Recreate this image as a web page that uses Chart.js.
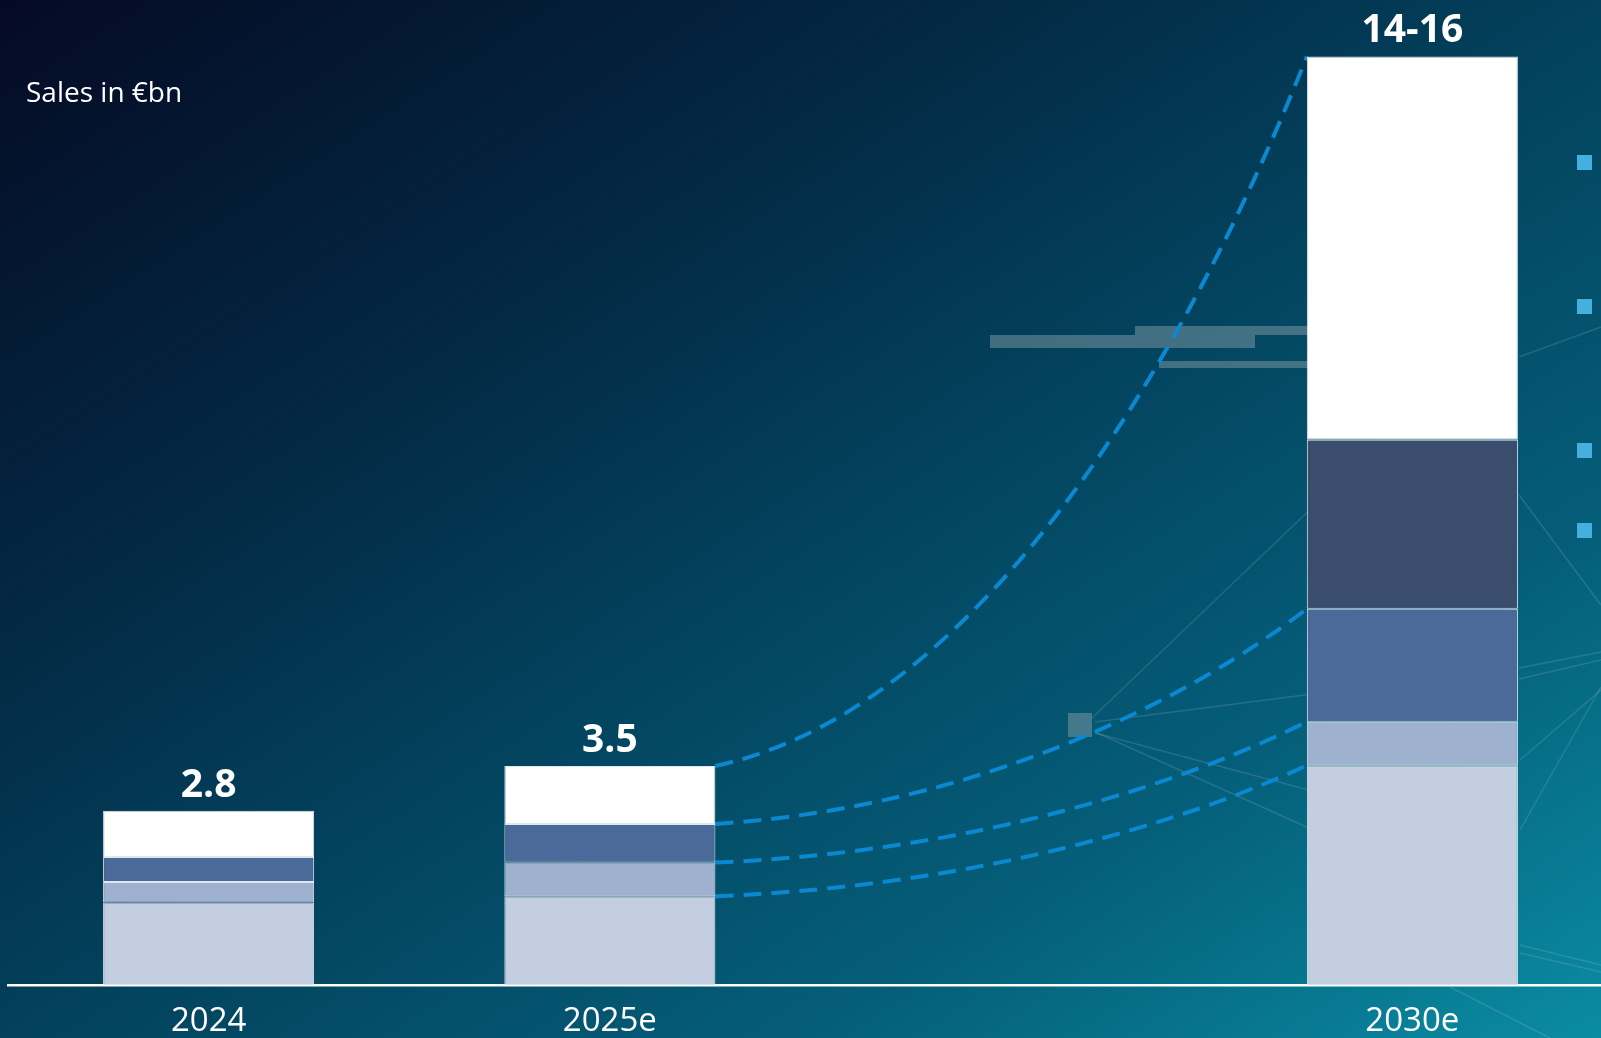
<!DOCTYPE html>
<html lang="en">
<head>
    <meta charset="UTF-8">
    <title>Sales in €bn</title>
    <script src="https://cdn.jsdelivr.net/npm/chart.js"></script>
    <style>
        html, body { margin: 0; padding: 0; width: 1601px; height: 1038px; overflow: hidden; }
        body {
            background: linear-gradient(to bottom right, #050a24 0%, #032a45 32%, #03435e 52%, #055f7a 76%, #0a8ca3 100%);
            font-family: 'Open Sans', sans-serif;
        }
        #wrap { position: relative; width: 1615px; height: 1058px; }
        #myChart { display: block; }
        #unit { position: absolute; left: 26px; top: 77px; color: #fff; font-size: 28px; line-height: 1; }
    </style>
</head>
<body>
    <div id="wrap">
        <canvas id="myChart" width="1615" height="1058"></canvas>
        <div id="unit">Sales in €bn</div>
    </div>

    <script>
        // years on the x axis (third slot left empty so 2030e sits further out)
        const categories = ['2024', '2025e', '', '2030e'];

        // stacked segments, bottom to top (€bn)
        const segment1 = [1.33, 1.43, null, 3.53];
        const segment2 = [0.33, 0.54, null, 0.70];
        const segment3 = [0.40, 0.62, null, 1.81];
        const segment4 = [0, 0, null, 2.71];
        const segment5 = [0.74, 0.93, null, 6.15];

        const totalLabels = ['2.8', '3.5', '', '14-16'];

        // dashed connectors run from 2025e to 2030e at the top of these segments
        const linkedSegments = [0, 1, 2, 4];

        // background decoration (slide artwork)
        const bgLines = [
            [1091, 719, 1320, 500], [1095, 722, 1320, 693], [1095, 733, 1320, 793],
            [1095, 732, 1320, 833], [1519, 357, 1601, 327], [1519, 495, 1601, 605],
            [1519, 668, 1601, 652], [1519, 679, 1601, 660], [1520, 830, 1601, 687],
            [1520, 760, 1601, 690], [1520, 945, 1601, 965], [1520, 953, 1601, 972],
            [1450, 987, 1550, 1038]
        ];
        const bgBlocks = [
            [990, 335, 265, 13], [1135, 326, 175, 9], [1159, 361, 150, 7], [1068, 713, 24, 24]
        ];
        const bullets = [155, 299, 443, 523];

        const fillColors = ['#c3cee0', '#9eb1ce', '#4b6a99', '#3a4d6d', '#ffffff'];
        const segmentData = [segment1, segment2, segment3, segment4, segment5];

        const backdrop = {
            id: 'backdrop',
            beforeDatasetsDraw(chart) {
                const ctx = chart.ctx;
                ctx.save();
                ctx.strokeStyle = 'rgba(200,215,225,0.16)';
                ctx.lineWidth = 1.5;
                bgLines.forEach(l => {
                    ctx.beginPath();
                    ctx.moveTo(l[0], l[1]);
                    ctx.lineTo(l[2], l[3]);
                    ctx.stroke();
                });
                ctx.fillStyle = 'rgba(130,155,165,0.5)';
                bgBlocks.forEach(b => ctx.fillRect(b[0], b[1], b[2], b[3]));
                ctx.fillStyle = '#45b0e0';
                bullets.forEach(y => ctx.fillRect(1577, y, 15, 15));

                // dashed growth curves between 2025e and 2030e
                ctx.strokeStyle = '#0b88d2';
                ctx.lineWidth = 4;
                ctx.setLineDash([18, 10]);
                linkedSegments.forEach(d => {
                    const meta = chart.getDatasetMeta(d);
                    const a = meta.data[1], b = meta.data[3];
                    const x0 = a.x + a.width / 2, y0 = a.y;
                    const x1 = b.x - b.width / 2, y1 = b.y;
                    const dx = x1 - x0, dy = y1 - y0;
                    ctx.beginPath();
                    ctx.moveTo(x0, y0);
                    ctx.bezierCurveTo(x0 + 0.45 * dx, y0 + 0.08 * dy, x0 + 0.8 * dx, y0 + 0.58 * dy, x1, y1);
                    ctx.stroke();
                });
                ctx.restore();
            }
        };

        const totals = {
            id: 'totals',
            afterDatasetsDraw(chart) {
                const ctx = chart.ctx;
                const top = chart.getDatasetMeta(segmentData.length - 1);
                ctx.save();
                ctx.fillStyle = '#ffffff';
                ctx.font = 'bold 39px "Open Sans", sans-serif';
                ctx.textAlign = 'center';
                ctx.textBaseline = 'alphabetic';
                totalLabels.forEach((t, i) => {
                    if (!t) return;
                    const bar = top.data[i];
                    ctx.fillText(t, bar.x, bar.y - 14);
                });
                ctx.restore();
            }
        };

        const ctx = document.getElementById('myChart').getContext('2d');
        const myChart = new Chart(ctx, {
            type: 'bar',
            data: {
                labels: categories,
                datasets: segmentData.map((d, i) => ({
                    label: 'Segment ' + (i + 1),
                    data: d,
                    backgroundColor: fillColors[i],
                    borderColor: 'rgba(235,240,248,0.95)',
                    borderWidth: 1,
                    borderSkipped: false,
                    barPercentage: 0.526,
                    categoryPercentage: 1
                }))
            },
            options: {
                responsive: false,
                animation: false,
                layout: { padding: { left: 8, right: 2, top: 19, bottom: 0 } },
                plugins: {
                    legend: { display: false },
                    tooltip: { enabled: false }
                },
                scales: {
                    x: {
                        stacked: true,
                        grid: { display: false, drawTicks: false },
                        border: { display: true, color: '#ffffff', width: 2.5 },
                        ticks: {
                            color: '#ffffff',
                            font: { family: 'Open Sans', size: 33 },
                            padding: 16.5
                        }
                    },
                    y: {
                        stacked: true,
                        display: false,
                        min: 0,
                        max: 15.5
                    }
                }
            },
            plugins: [backdrop, totals]
        });
    </script>
</body>
</html>
